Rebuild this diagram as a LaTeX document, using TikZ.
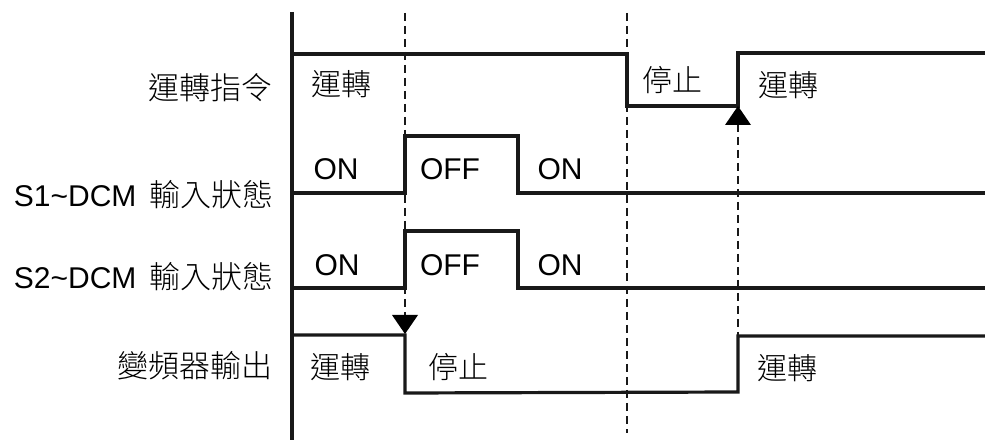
\documentclass[tikz,border=0pt]{standalone}
\usepackage{fontspec}
\setmainfont{Liberation Sans}
\newfontfamily\cjk{Noto Sans CJK TC Light}
\usepackage{tikz}
\usetikzlibrary{positioning}

\tikzset{
  sig/.style={line width=3.2pt, line join=miter, black!90},
  guide/.style={line width=2pt, dash pattern=on 8pt off 5pt, black!90},
  lbl/.style={font=\fontsize{30}{36}\selectfont, inner sep=0pt},
  signame/.style={lbl, anchor=east},
  tip/.style={fill=black, draw=none}
}

\begin{document}
\begin{tikzpicture}[x=1pt,y=-1pt]
  \useasboundingbox (0,0) rectangle (985,443);
  % axis
  \draw[sig] (292,12) -- (292,440);
  % names of the signals
  \node[signame] (cmd) at (273,88) {\cjk\fontsize{31}{36}\selectfont 運轉指令};
  \node[signame] (sone) at (274,195) {S1{\string~}DCM\hspace{5pt} {\cjk\fontsize{31}{36}\selectfont 輸入狀態}};
  \node[signame] (stwo) at (274,277) {S2{\string~}DCM\hspace{5pt} {\cjk\fontsize{31}{36}\selectfont 輸入狀態}};
  \node[signame] (out) at (273,366) {\cjk\fontsize{31}{36}\selectfont 變頻器輸出};
  % run command
  \draw[sig] (292,54) -- (627,54) -- (627,106) -- (738,106) -- (738,53) -- (985,53);
  \node[lbl] (cmdrun) at (341,84) {\cjk 運轉};
  \node[lbl] (cmdstop) at (672,80) {\cjk 停止};
  \node[lbl] (cmdrun2) at (788,85) {\cjk 運轉};
  % S1 input
  \draw[sig] (292,193) -- (405,193) -- (405,136) -- (518,136) -- (518,193) -- (985,193);
  \node[lbl] (sone1) at (336,169) {ON};
  \node[lbl] (sone2) at (450,169) {OFF};
  \node[lbl] (sone3) at (560,169) {ON};
  % S2 input
  \draw[sig] (292,288) -- (405,288) -- (405,231) -- (518,231) -- (518,288) -- (985,288);
  \node[lbl] (stwo1) at (337,265) {ON};
  \node[lbl] (stwo2) at (450,265) {OFF};
  \node[lbl] (stwo3) at (560,265) {ON};
  % drive output
  \draw[sig] (292,335) -- (405,335) -- (405,393) -- (738,392) -- (738,336) -- (985,336);
  \node[lbl] (outrun) at (340,367) {\cjk 運轉};
  \node[lbl] (outstop) at (458,367) {\cjk 停止};
  \node[lbl] (outrun2) at (787,368) {\cjk 運轉};
  % guides
  \coordinate (ga) at (405,13);
  \coordinate (gb) at (405,316);
  \coordinate (gc) at (627,13);
  \coordinate (gd) at (627,433);
  \coordinate (ge) at (738,124);
  \coordinate (gf) at (738,336);
  \draw[guide] (ga) -- (gb);
  \draw[guide] (gc) -- (gd);
  \draw[guide] (ge) -- (gf);
  \fill[tip] (392,315) -- (418,315) -- (405,334) -- cycle;
  \fill[tip] (725,125) -- (751,125) -- (738,106) -- cycle;
\end{tikzpicture}
\end{document}
